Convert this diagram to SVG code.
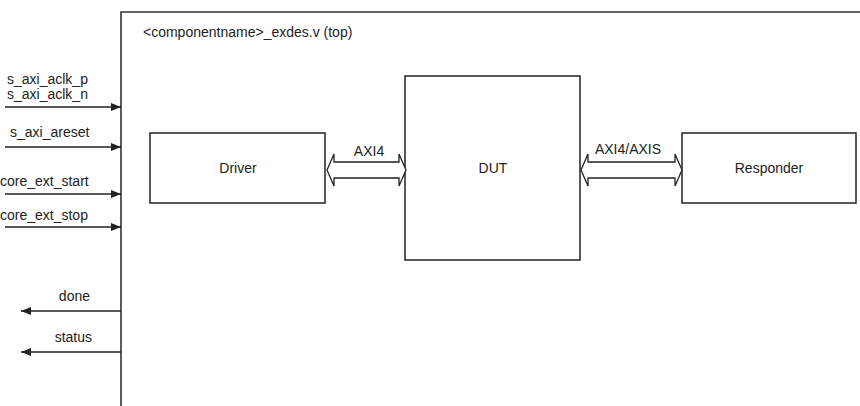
<svg xmlns="http://www.w3.org/2000/svg" width="860" height="406" viewBox="0 0 860 406">
<defs>
<style>
.t{font-family:"Liberation Sans",Arial,sans-serif;font-size:14px;fill:#222}
.box{fill:#fff;stroke:#222;stroke-width:1.5}
.sig{stroke:#222;stroke-width:1.5;fill:none}
.bus{fill:#fff;stroke:#222;stroke-width:1.3;stroke-linejoin:miter}
</style>
<marker id="ah" viewBox="0 0 10 8" refX="10" refY="4" markerWidth="10" markerHeight="8" markerUnits="userSpaceOnUse" orient="auto">
<path d="M0,0 L10,4 L0,8 Z" fill="#222"/>
</marker>
</defs>
<rect width="860" height="406" fill="#fff"/>
<g id="top">
<path d="M121,406 V12 H860" fill="none" stroke="#333" stroke-width="1.6"/>
<text class="t" x="143" y="37">&lt;componentname&gt;_exdes.v (top)</text>
</g>
<g id="driver">
<rect class="box" x="150" y="133" width="175" height="70"/>
<text class="t" x="238" y="173" text-anchor="middle">Driver</text>
</g>
<g id="dut">
<rect class="box" x="405" y="76" width="175" height="184"/>
<text class="t" x="493" y="173" text-anchor="middle">DUT</text>
</g>
<g id="responder">
<rect class="box" x="682" y="133" width="174" height="70"/>
<text class="t" x="769" y="173" text-anchor="middle">Responder</text>
</g>
<g id="connectors">
<path class="bus" d="M327,170 L334,154 L334,162 L399,162 L399,154 L406,170 L399,186 L399,178 L334,178 L334,186 Z"/>
<text class="t" x="369" y="156" text-anchor="middle">AXI4</text>
<path class="bus" d="M581,170 L588,154 L588,162 L675,162 L675,154 L682,170 L675,186 L675,178 L588,178 L588,186 Z"/>
<text class="t" x="628" y="154" text-anchor="middle">AXI4/AXIS</text>
<line class="sig" x1="5" y1="107" x2="121" y2="107" marker-end="url(#ah)"/>
<line class="sig" x1="5" y1="147" x2="121" y2="147" marker-end="url(#ah)"/>
<line class="sig" x1="5" y1="194" x2="121" y2="194" marker-end="url(#ah)"/>
<line class="sig" x1="5" y1="227" x2="121" y2="227" marker-end="url(#ah)"/>
<line class="sig" x1="121" y1="311" x2="21" y2="311" marker-end="url(#ah)"/>
<line class="sig" x1="121" y1="352" x2="21" y2="352" marker-end="url(#ah)"/>
</g>
<g id="labels">
<text class="t" x="7" y="84">s_axi_aclk_p</text>
<text class="t" x="7" y="99">s_axi_aclk_n</text>
<text class="t" x="10" y="137">s_axi_areset</text>
<text class="t" x="0" y="186">core_ext_start</text>
<text class="t" x="0" y="220">core_ext_stop</text>
<text class="t" x="90" y="301" text-anchor="end">done</text>
<text class="t" x="92" y="342" text-anchor="end">status</text>
</g>
</svg>
